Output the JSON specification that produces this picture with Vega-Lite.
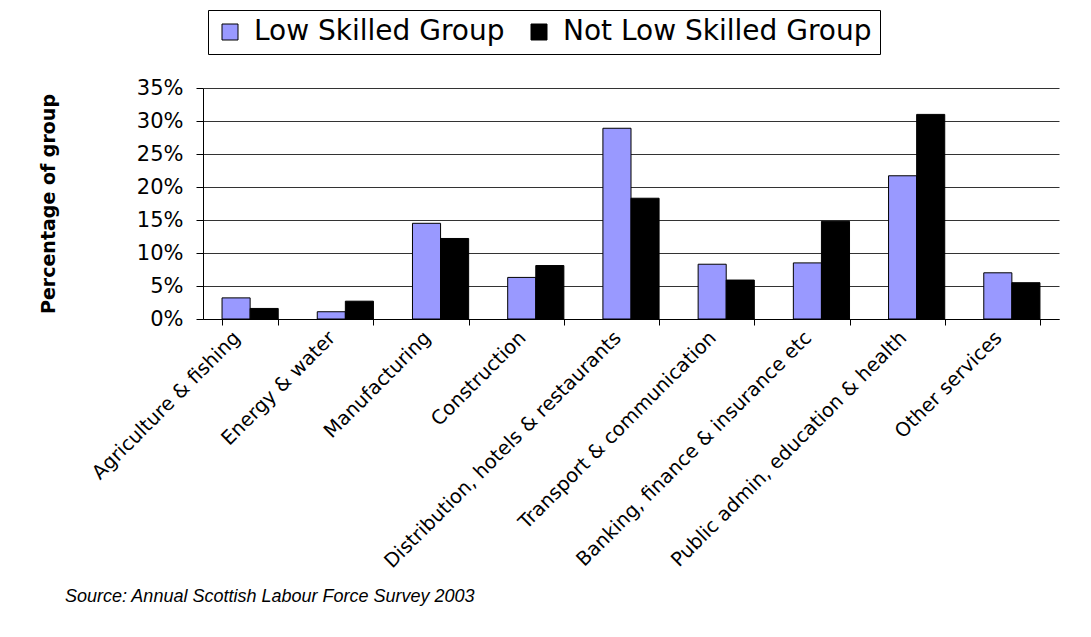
{
  "$schema": "https://vega.github.io/schema/vega-lite/v6.json",
  "autosize": "none",
  "width": 856,
  "height": 231,
  "padding": {"left": 203, "top": 88, "right": 32, "bottom": 318},
  "background": "white",
  "data": {
    "values": [
      {"sector": "Agriculture & fishing", "group": "Low Skilled Group", "pct": 3.2},
      {"sector": "Agriculture & fishing", "group": "Not Low Skilled Group", "pct": 1.6},
      {"sector": "Energy & water", "group": "Low Skilled Group", "pct": 1.1},
      {"sector": "Energy & water", "group": "Not Low Skilled Group", "pct": 2.7},
      {"sector": "Manufacturing", "group": "Low Skilled Group", "pct": 14.5},
      {"sector": "Manufacturing", "group": "Not Low Skilled Group", "pct": 12.2},
      {"sector": "Construction", "group": "Low Skilled Group", "pct": 6.3},
      {"sector": "Construction", "group": "Not Low Skilled Group", "pct": 8.1},
      {"sector": "Distribution, hotels & restaurants", "group": "Low Skilled Group", "pct": 28.9},
      {"sector": "Distribution, hotels & restaurants", "group": "Not Low Skilled Group", "pct": 18.3},
      {"sector": "Transport & communication", "group": "Low Skilled Group", "pct": 8.3},
      {"sector": "Transport & communication", "group": "Not Low Skilled Group", "pct": 5.9},
      {"sector": "Banking, finance & insurance etc", "group": "Low Skilled Group", "pct": 8.5},
      {"sector": "Banking, finance & insurance etc", "group": "Not Low Skilled Group", "pct": 14.8},
      {"sector": "Public admin, education & health", "group": "Low Skilled Group", "pct": 21.7},
      {"sector": "Public admin, education & health", "group": "Not Low Skilled Group", "pct": 31.0},
      {"sector": "Other services", "group": "Low Skilled Group", "pct": 7.0},
      {"sector": "Other services", "group": "Not Low Skilled Group", "pct": 5.5}
    ]
  },
  "title": {
    "text": "Source:  Annual Scottish Labour Force Survey 2003",
    "orient": "bottom",
    "anchor": "start",
    "frame": "group",
    "dx": -138,
    "offset": 17,
    "font": "Liberation Sans",
    "fontSize": 18,
    "fontStyle": "italic",
    "fontWeight": "normal",
    "color": "black"
  },
  "mark": {"type": "bar", "stroke": "black", "strokeWidth": 1},
  "encoding": {
    "x": {
      "field": "sector",
      "type": "nominal",
      "sort": null,
      "scale": {"paddingInner": 0.41, "paddingOuter": 0.2},
      "axis": {
        "title": null,
        "labelAngle": -45,
        "labelAlign": "right",
        "labelBaseline": "top",
        "labelFontSize": 19.5,
        "labelFont": "DejaVu Sans",
        "labelColor": "black",
        "labelPadding": 3,
        "labelOffset": -20,
        "tickBand": "extent",
        "tickSize": 6,
        "tickColor": "black",
        "domainColor": "black",
        "labelLimit": 0
      }
    },
    "xOffset": {"field": "group", "type": "nominal", "sort": ["Low Skilled Group", "Not Low Skilled Group"]},
    "y": {
      "field": "pct",
      "type": "quantitative",
      "scale": {"domain": [0, 35], "nice": false},
      "axis": {
        "title": "Percentage of group",
        "titleFont": "DejaVu Sans",
        "titleFontSize": 19,
        "titleFontWeight": "bold",
        "titleColor": "black",
        "titlePadding": 78,
        "values": [0, 5, 10, 15, 20, 25, 30, 35],
        "labelExpr": "datum.value + '%'",
        "labelFont": "DejaVu Sans",
        "labelFontSize": 21,
        "labelColor": "black",
        "labelPadding": 13,
        "tickSize": 7,
        "tickColor": "black",
        "domainColor": "black",
        "grid": true,
        "gridColor": "#333333",
        "gridWidth": 1
      }
    },
    "color": {
      "field": "group",
      "type": "nominal",
      "scale": {"domain": ["Low Skilled Group", "Not Low Skilled Group"], "range": ["#9999FF", "#000000"]},
      "legend": {
        "title": null,
        "orient": "none",
        "legendX": 5,
        "legendY": -78,
        "direction": "horizontal",
        "strokeColor": "black",
        "fillColor": "white",
        "padding": 8,
        "labelFont": "DejaVu Sans",
        "labelFontSize": 28,
        "labelColor": "black",
        "labelLimit": 0,
        "symbolType": "square",
        "symbolSize": 256,
        "symbolStrokeColor": "black",
        "symbolStrokeWidth": 1,
        "symbolOpacity": 1,
        "columnPadding": 20,
        "labelOffset": 10
      }
    }
  },
  "config": {
    "view": {"stroke": null},
    "axis": {"domainWidth": 1, "tickWidth": 1}
  }
}
